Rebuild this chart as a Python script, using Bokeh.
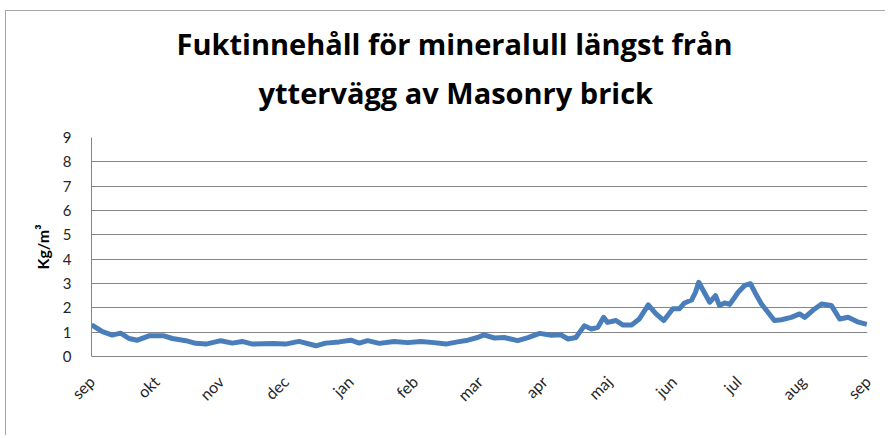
from bokeh.plotting import figure
from bokeh.models import FixedTicker, Title, ColumnDataSource
from bokeh.embed import file_html
from bokeh.resources import INLINE

# month tick labels (positions 0..12 = start of each month, sep -> sep)
months = ["sep", "okt", "nov", "dec", "jan", "feb", "mar", "apr", "maj", "jun", "jul", "aug", "sep"]

# time in months since start of September
t = [0.00, 0.17, 0.32, 0.45, 0.58, 0.71, 0.89, 1.12, 1.25, 1.46, 1.61, 1.77,
     2.00, 2.18, 2.33, 2.49, 2.80, 3.00, 3.21, 3.47, 3.62, 3.83, 4.01, 4.14,
     4.27, 4.45, 4.68, 4.89, 5.09, 5.30, 5.48, 5.66, 5.82, 5.97, 6.07, 6.23,
     6.38, 6.59, 6.75, 6.93, 7.11, 7.26, 7.37, 7.49, 7.62, 7.73, 7.83, 7.92,
     7.98, 8.11, 8.22, 8.35, 8.47, 8.61, 8.73, 8.85, 8.99, 9.09, 9.17, 9.28,
     9.34, 9.39, 9.46, 9.56, 9.65, 9.71, 9.79, 9.87, 10.00, 10.10, 10.19, 10.27,
     10.36, 10.46, 10.56, 10.67, 10.82, 10.95, 11.03, 11.16, 11.29, 11.44, 11.57,
     11.70, 11.86, 11.99]

# moisture content, kg/m3
moisture = [1.30, 1.02, 0.88, 0.96, 0.74, 0.67, 0.85, 0.85, 0.74, 0.65, 0.54, 0.51,
            0.65, 0.55, 0.62, 0.51, 0.53, 0.51, 0.62, 0.44, 0.55, 0.60, 0.67, 0.55,
            0.65, 0.54, 0.62, 0.57, 0.62, 0.57, 0.51, 0.60, 0.67, 0.78, 0.89, 0.76,
            0.78, 0.65, 0.78, 0.95, 0.87, 0.89, 0.72, 0.78, 1.26, 1.13, 1.20, 1.61,
            1.40, 1.48, 1.29, 1.29, 1.54, 2.12, 1.75, 1.48, 1.96, 1.96, 2.20, 2.32,
            2.64, 3.05, 2.71, 2.23, 2.50, 2.10, 2.20, 2.14, 2.64, 2.92, 2.99, 2.58,
            2.16, 1.82, 1.48, 1.51, 1.61, 1.75, 1.61, 1.91, 2.16, 2.10, 1.54,
            1.61, 1.41, 1.32]

y_ticks = list(range(0, 10))
title_lines = ["Fuktinnehåll för mineralull längst från", "yttervägg av Masonry brick"]

src = ColumnDataSource(data=dict(t=t, m=moisture))

p = figure(width=880, height=425, output_backend="svg", toolbar_location=None,
           x_range=(0, 12), y_range=(0, 9),
           min_border_left=85, min_border_right=19, min_border_top=126,
           min_border_bottom=80, title=None)
p.margin = (10, 0, 0, 5)
p.styles = {"border-left": "1px solid #a6a6a6", "border-top": "1px solid #a6a6a6"}

tstyle = dict(align="left", text_font="Open Sans", text_font_style="bold",
              text_font_size="29px", text_color="#000000")
p.add_layout(Title(text=title_lines[1], standoff=52, offset=167, **tstyle), "above")
p.add_layout(Title(text=title_lines[0], standoff=-36, offset=85, text_line_height=1.25,
                   **tstyle), "above")

p.line("t", "m", source=src, line_color="#4a7ebb", line_width=5, line_join="round")

p.outline_line_color = None
p.background_fill_color = "white"
p.border_fill_color = "white"

p.xaxis.ticker = FixedTicker(ticks=list(range(0, 13)))
p.xaxis.major_label_overrides = {i: m for i, m in enumerate(months)}
p.xaxis.major_label_orientation = 0.7854
p.yaxis.ticker = FixedTicker(ticks=y_ticks)

for ax in (p.xaxis, p.yaxis):
    ax.axis_line_color = "#868686"
    ax.axis_line_width = 1
    ax.major_tick_line_color = None
    ax.minor_tick_line_color = None
    ax.major_label_text_font = "Lato"
    ax.major_label_text_font_size = "15px"
    ax.major_label_text_color = "#262626"

p.xaxis.major_label_text_font_size = "16px"
p.xaxis.major_label_standoff = 16
p.yaxis.major_label_standoff = 14

p.yaxis.axis_label = "Kg/m³"
p.yaxis.axis_label_text_font = "Lato"
p.yaxis.axis_label_text_font_style = "bold"
p.yaxis.axis_label_text_font_size = "16px"
p.yaxis.axis_label_text_color = "#000000"
p.yaxis.axis_label_standoff = 8

p.xgrid.grid_line_color = None
p.ygrid.grid_line_color = "#868686"
p.ygrid.grid_line_width = 1

open("out.html", "w").write(file_html(p, INLINE))
